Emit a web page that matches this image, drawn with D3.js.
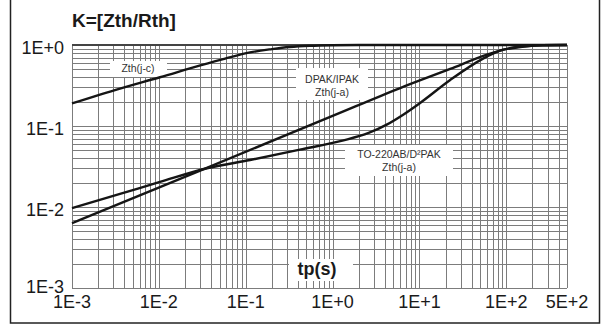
<!DOCTYPE html>
<html>
<head>
<meta charset="utf-8">
<script src="https://cdn.jsdelivr.net/npm/d3@7"></script>
<style>
  html, body { margin: 0; padding: 0; background: #fff; }
  svg { display: block; font-family: Arial, "Liberation Sans", sans-serif; }
</style>
</head>
<body>
<div id="chart"></div>
<script>
// pulse duration tp (s) and normalised impedance K = Zth/Rth
const jcTime = [0.001, 0.00357, 0.0103, 0.030, 0.058, 0.112, 0.20, 0.32, 0.55, 1.0, 2.0, 500];
const jcK    = [0.19, 0.29, 0.40, 0.56, 0.68, 0.81, 0.89, 0.945, 0.98, 0.995, 1.0, 1.0];

const dpakTime = [0.001, 0.0299, 1.0, 6.0, 22.6, 60, 100, 160, 260, 500];
const dpakK    = [0.0063, 0.0282, 0.133, 0.294, 0.506, 0.76, 0.89, 0.96, 0.995, 1.0];

const to220Time = [0.001, 0.00357, 0.0103, 0.0369, 0.112, 0.42, 1.3, 2.6, 4.2, 6.5, 10, 22.6, 54, 90, 150, 260, 500];
const to220K    = [0.0097, 0.0145, 0.0204, 0.0303, 0.038, 0.051, 0.066, 0.082, 0.104, 0.138, 0.19, 0.37, 0.68, 0.87, 0.96, 0.995, 1.0];

const xTickVals = [1e-3, 1e-2, 1e-1, 1, 10, 100, 500];
const xTickLabels = ["1E-3", "1E-2", "1E-1", "1E+0", "1E+1", "1E+2", "5E+2"];
const yTickVals = [1, 0.1, 0.01, 0.001];
const yTickLabels = ["1E+0", "1E-1", "1E-2", "1E-3"];

const W = 605, H = 325;
const margin = { left: 72, right: 38, top: 45, bottom: 37 };

const svg = d3.select("#chart").append("svg")
  .attr("width", W)
  .attr("height", H);

// outer frame of the figure
svg.append("rect")
  .attr("x", 10.5).attr("y", -2)
  .attr("width", 589).attr("height", 325)
  .attr("fill", "none")
  .attr("stroke", "#222")
  .attr("stroke-width", 1.5);

const x = d3.scaleLog().domain([1e-3, 5e2]).range([margin.left, W - margin.right]);
const y = d3.scaleLog().domain([1e-3, 1]).range([H - margin.bottom, margin.top]);

// log grid: 1..9 per decade
const xGrid = [];
for (let d = -3; d <= 2; d++) for (let k = 1; k <= 9; k++) {
  const v = k * Math.pow(10, d);
  if (v <= 500 + 1e-9) xGrid.push(v);
}
const yGrid = [];
for (let d = -3; d <= -1; d++) for (let k = 1; k <= 9; k++) yGrid.push(k * Math.pow(10, d));
yGrid.push(1);

const grid = svg.append("g").attr("stroke", "#7c7c7c").attr("stroke-width", 1);
grid.selectAll("line.gx").data(xGrid).join("line")
  .attr("class", "gx")
  .attr("x1", d => Math.round(x(d)) + 0.5).attr("x2", d => Math.round(x(d)) + 0.5)
  .attr("y1", y(1)).attr("y2", y(1e-3));
grid.selectAll("line.gy").data(yGrid).join("line")
  .attr("class", "gy")
  .attr("y1", d => Math.round(y(d)) + 0.5).attr("y2", d => Math.round(y(d)) + 0.5)
  .attr("x1", x(1e-3)).attr("x2", x(500));

// darker top edge
svg.append("line")
  .attr("x1", x(1e-3)).attr("x2", x(500))
  .attr("y1", y(1)).attr("y2", y(1))
  .attr("stroke", "#444").attr("stroke-width", 2);

// white boxes behind the in-plot labels
const boxes = [
  [110, 61, 57, 16],
  [296, 68, 72, 32],
  [345, 145, 108, 31],
  [289, 259, 64, 22]
];
svg.selectAll("rect.box").data(boxes).join("rect")
  .attr("class", "box")
  .attr("x", d => d[0]).attr("y", d => d[1])
  .attr("width", d => d[2]).attr("height", d => d[3])
  .attr("fill", "#fff");

const line = d3.line()
  .x(d => x(d[0]))
  .y(d => y(d[1]))
  .curve(d3.curveMonotoneX);

const series = [
  d3.zip(jcTime, jcK),
  d3.zip(dpakTime, dpakK),
  d3.zip(to220Time, to220K)
];
svg.selectAll("path.curve").data(series).join("path")
  .attr("class", "curve")
  .attr("d", line)
  .attr("fill", "none")
  .attr("stroke", "#151515")
  .attr("stroke-width", 2.4)
  .attr("stroke-linejoin", "round");

// tick labels
svg.selectAll("text.xl").data(xTickVals).join("text")
  .attr("class", "xl")
  .attr("x", d => x(d))
  .attr("y", 308)
  .attr("text-anchor", "middle")
  .attr("font-size", 18)
  .attr("fill", "#1a1a1a")
  .text((d, i) => xTickLabels[i]);

svg.selectAll("text.yl").data(yTickVals).join("text")
  .attr("class", "yl")
  .attr("x", 64)
  .attr("y", (d, i) => y(d) + (i === 3 ? 5 : 9))
  .attr("text-anchor", "end")
  .attr("font-size", 18)
  .attr("fill", "#1a1a1a")
  .text((d, i) => yTickLabels[i]);

svg.append("text")
  .attr("x", 72).attr("y", 27)
  .attr("font-size", 19)
  .attr("font-weight", "bold")
  .attr("fill", "#1a1a1a")
  .text("K=[Zth/Rth]");

svg.append("text")
  .attr("x", 317).attr("y", 275)
  .attr("text-anchor", "middle")
  .attr("font-size", 18)
  .attr("font-weight", "bold")
  .attr("fill", "#1a1a1a")
  .text("tp(s)");

// curve labels
const curveLabels = [
  [138, 72, "Zth(j-c)"],
  [332, 83, "DPAK/IPAK"],
  [332, 96, "Zth(j-a)"],
  [399, 158, "TO-220AB/D²PAK"],
  [399, 171, "Zth(j-a)"]
];
svg.selectAll("text.cl").data(curveLabels).join("text")
  .attr("class", "cl")
  .attr("x", d => d[0]).attr("y", d => d[1])
  .attr("text-anchor", "middle")
  .attr("font-size", 10.5)
  .attr("fill", "#333")
  .text(d => d[2]);
</script>
</body>
</html>
